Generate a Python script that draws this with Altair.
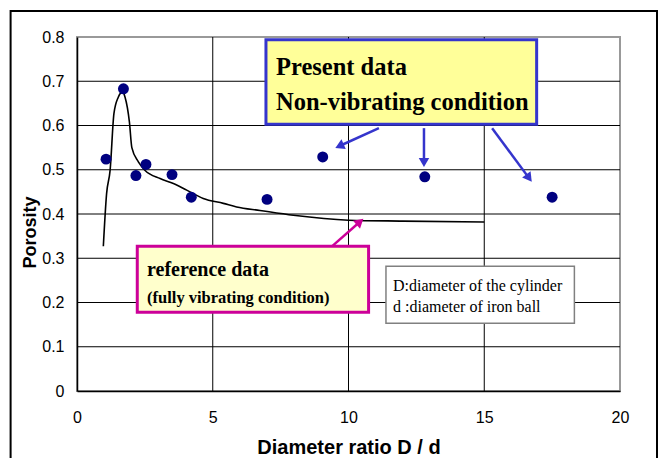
import math
import altair as alt
import pandas as pd

# ---- data ----
ratio_present = [1.07, 1.71, 2.17, 2.54, 3.50, 4.21, 7.0, 9.05, 12.81, 17.5]
porosity_present = [0.524, 0.683, 0.487, 0.512, 0.489, 0.438, 0.433, 0.529, 0.484, 0.438]

ratio_ref = [0.97, 1.09, 1.22, 1.36, 1.52, 1.68, 1.77, 1.93, 2.02, 2.26, 2.5, 3.06,
             3.55, 4.04, 4.65, 5.39, 5.88, 6.74, 7.97, 10.0, 12.0, 15.0]
porosity_ref = [0.327, 0.446, 0.499, 0.627, 0.664, 0.676, 0.664, 0.608, 0.55, 0.518,
                0.499, 0.48, 0.469, 0.454, 0.435, 0.424, 0.416, 0.408, 0.397, 0.386,
                0.384, 0.382]

x_ticks = [0, 5, 10, 15, 20]
y_ticks = [0, 0.1, 0.2, 0.3, 0.4, 0.5, 0.6, 0.7, 0.8]
x_title = "Diameter ratio D / d"
y_title = "Porosity"

# annotation texts
present_lines = ["Present data", "Non-vibrating condition"]
reference_lines = ["reference data", "(fully vibrating condition)"]
legend_lines = ["D:diameter of the cylinder", "d :diameter of iron ball"]

# ---- layout ----
W, H = 543, 354
PX = W / 20.0
PY = H / 0.8
BLUE = "#3535cc"
MAGENTA = "#cc0099"

xs = alt.Scale(domain=[0, 20], nice=False, zero=False)
ys = alt.Scale(domain=[0, 0.8], nice=False, zero=False)

x_axis = alt.Axis(
    values=x_ticks, grid=False, ticks=False, tickSize=0,
    domainColor="black", domainWidth=1.5,
    labelFont="Liberation Sans", labelFontSize=16, labelColor="black",
    labelPadding=18, labelFlush=False, labelOverlap=False,
    title=x_title, titleFont="Liberation Sans Narrow, Liberation Sans, sans-serif",
    titleFontSize=20, titleFontWeight="bold", titleColor="black",
    titleY=62, titleBaseline="alphabetic")
y_axis = alt.Axis(
    values=y_ticks, format="~g", grid=False, ticks=False, tickSize=0,
    domainColor="black", domainWidth=1.5,
    labelFont="Liberation Sans", labelFontSize=16, labelColor="black",
    labelPadding=13, labelFlush=False, labelOverlap=False,
    title=y_title, titleFont="Liberation Sans", titleFontSize=18,
    titleFontWeight="bold", titleColor="black", titleAngle=270,
    titleX=-42, titleY=195, titleBaseline="alphabetic", titleAlign="center")


def X(field):
    return alt.X(field, scale=xs, axis=x_axis)


def Y(field):
    return alt.Y(field, scale=ys, axis=y_axis)


# annotation geometry (data units)
boxes = pd.DataFrame({
    "x": [6.96, 2.22, 11.38], "x2": [16.93, 10.74, 18.32],
    "y": [0.794, 0.327, 0.282], "y2": [0.603, 0.178, 0.153],
    "fill": ["#ffff99", "#ffffcc", "#ffffff"],
    "stroke": [BLUE, MAGENTA, "#808080"],
    "sw": [3, 3, 1.5],
})
bold_texts = pd.DataFrame({
    "x": [7.33, 7.33, 2.58, 2.58],
    "y": [0.713, 0.634, 0.259, 0.2],
    "t": present_lines + reference_lines,
    "fs": [24.5, 24.5, 20, 16.5],
})
plain_texts = pd.DataFrame({
    "x": [11.64, 11.64],
    "y": [0.2255, 0.178],
    "t": legend_lines,
    "fs": [16, 16],
})

arrow_src = [
    (11.12, 0.594, 9.50, 0.549, BLUE),
    (12.78, 0.594, 12.78, 0.505, BLUE),
    (15.29, 0.594, 16.76, 0.472, BLUE),
    (9.41, 0.328, 10.56, 0.390, MAGENTA),
]
rows = []
for x1, y1, x2, y2, c in arrow_src:
    dx = (x2 - x1) * PX
    dy = -(y2 - y1) * PY
    L = math.hypot(dx, dy)
    ux, uy = dx / L, dy / L
    ang = math.degrees(math.atan2(dx, -dy)) % 360
    hx = x2 - 5 * ux / PX
    hy = y2 + 5 * uy / PY
    rows.append({"x1": x1, "y1": y1, "hx": hx, "hy": hy, "ang": ang, "col": c})
arrows = pd.DataFrame(rows)

one = pd.DataFrame({"k": [0]})

frame = alt.Chart(one).mark_rect(fillOpacity=0, stroke="black", strokeWidth=2).encode(
    x=alt.value(-66.4), x2=alt.value(580), y=alt.value(-26), y2=alt.value(440)
)

hgrid = alt.Chart(pd.DataFrame({"v": y_ticks[1:-1]})).mark_rule(
    color="black", strokeWidth=1).encode(y=Y("v:Q"))
vgrid = alt.Chart(pd.DataFrame({"v": x_ticks[1:-1]})).mark_rule(
    color="black", strokeWidth=1).encode(x=X("v:Q"))

ref_df = pd.DataFrame({"ratio": ratio_ref, "porosity": porosity_ref})
line = alt.Chart(ref_df).mark_line(color="black", strokeWidth=1.6, interpolate="monotone").encode(
    x=X("ratio:Q"), y=Y("porosity:Q"))

pres_df = pd.DataFrame({"ratio": ratio_present, "porosity": porosity_present})
points = alt.Chart(pres_df).mark_circle(color="#000080", size=120, opacity=1).encode(
    x=X("ratio:Q"), y=Y("porosity:Q"))

arrow_lines = alt.Chart(arrows).mark_rule(strokeWidth=2.5).encode(
    x=X("x1:Q"), x2="hx:Q",
    y=Y("y1:Q"), y2="hy:Q",
    color=alt.Color("col:N", scale=None))
arrow_heads = alt.Chart(arrows).mark_point(shape="triangle-up", filled=True, size=110, opacity=1).encode(
    x=X("hx:Q"), y=Y("hy:Q"),
    angle=alt.Angle("ang:Q", scale=None),
    color=alt.Color("col:N", scale=None))

box_layer = alt.Chart(boxes).mark_rect().encode(
    x=X("x:Q"), x2="x2:Q",
    y=Y("y:Q"), y2="y2:Q",
    fill=alt.Fill("fill:N", scale=None),
    stroke=alt.Stroke("stroke:N", scale=None),
    strokeWidth=alt.StrokeWidth("sw:Q", scale=None))

bold_layer = alt.Chart(bold_texts).mark_text(
    align="left", baseline="alphabetic", font="Liberation Serif", fontWeight="bold", color="black").encode(
    x=X("x:Q"), y=Y("y:Q"), text="t:N",
    size=alt.Size("fs:Q", scale=None))
plain_layer = alt.Chart(plain_texts).mark_text(
    align="left", baseline="alphabetic", font="Liberation Serif", color="black").encode(
    x=X("x:Q"), y=Y("y:Q"), text="t:N",
    size=alt.Size("fs:Q", scale=None))

chart = alt.layer(
    frame, hgrid, vgrid, line, points, arrow_lines, arrow_heads, box_layer, bold_layer, plain_layer
).properties(
    width=W, height=H,
    autosize=alt.AutoSizeParams(type="none"),
    padding={"left": 77, "top": 37, "right": 41, "bottom": 67},
    background="white",
).configure_view(stroke="#999999", strokeWidth=2)

chart.save("out.html", embed_options={"renderer": "svg", "actions": False})
